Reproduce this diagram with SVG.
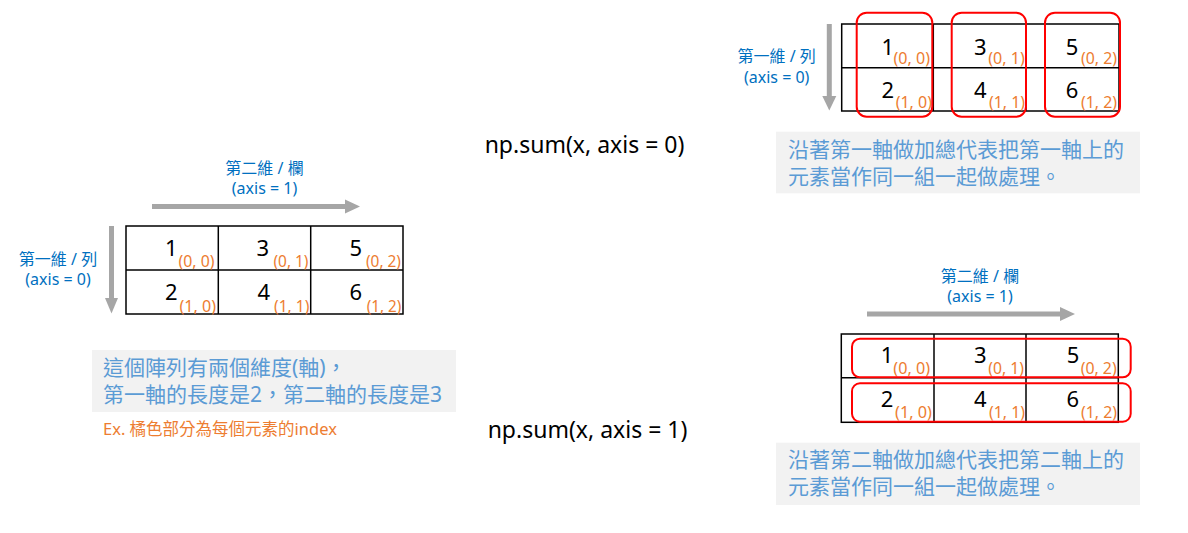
<svg xmlns="http://www.w3.org/2000/svg" width="1188" height="533" viewBox="0 0 1188 533">
<style>
text{font-family:"Noto Sans","Noto Sans CJK TC",sans-serif;}
.num{font-size:22px;fill:#000;text-anchor:end;}
.sub{font-size:16px;fill:#ED7D31;}
.ax{font-size:16px;fill:#0070C0;text-anchor:middle;}
.note{font-size:21px;fill:#5B9BD5;}
.code{font-size:23px;fill:#000;text-anchor:middle;}
.grid{fill:none;stroke:#000;stroke-width:1.5;}
.shaft{stroke:#A6A6A6;stroke-width:5;fill:none;}
.head{fill:#A6A6A6;}
.box{fill:#F2F2F2;}
.hl{fill:none;stroke:#FF0000;stroke-width:2;}
</style>
<rect width="1188" height="533" fill="#fff"/>

<g id="connectors">
  <line class="shaft" x1="152" y1="206.5" x2="346" y2="206.5"/>
  <polygon class="head" points="345,199.5 360,206.5 345,213.5"/>
  <line class="shaft" x1="111.5" y1="226" x2="111.5" y2="299"/>
  <polygon class="head" points="105,298 118,298 111.5,313.5"/>
  <line class="shaft" x1="829.3" y1="24" x2="829.3" y2="97"/>
  <polygon class="head" points="822.3,96 836.3,96 829.3,110.5"/>
  <line class="shaft" x1="867" y1="314" x2="1061" y2="314"/>
  <polygon class="head" points="1060,307 1075,314 1060,321"/>
</g>

<g id="grid-left">
  <rect class="grid" x="126" y="226" width="277" height="88"/>
  <line class="grid" x1="126" y1="270" x2="403" y2="270"/>
  <line class="grid" x1="218.3" y1="226" x2="218.3" y2="314"/>
  <line class="grid" x1="310.7" y1="226" x2="310.7" y2="314"/>
  <text class="num" x="177.5" y="256">1</text><text class="sub" x="178.5" y="267" textLength="36" lengthAdjust="spacingAndGlyphs">(0, 0)</text>
  <text class="num" x="269" y="256">3</text><text class="sub" x="273.5" y="267" textLength="35" lengthAdjust="spacingAndGlyphs">(0, 1)</text>
  <text class="num" x="362" y="256">5</text><text class="sub" x="366" y="267" textLength="35" lengthAdjust="spacingAndGlyphs">(0, 2)</text>
  <text class="num" x="177.5" y="300">2</text><text class="sub" x="179.5" y="311.5" textLength="36.5" lengthAdjust="spacingAndGlyphs">(1, 0)</text>
  <text class="num" x="270" y="300">4</text><text class="sub" x="274" y="311.5" textLength="35.3" lengthAdjust="spacingAndGlyphs">(1, 1)</text>
  <text class="num" x="362" y="300">6</text><text class="sub" x="366.7" y="311.5" textLength="34.5" lengthAdjust="spacingAndGlyphs">(1, 2)</text>
</g>
<g id="labels-left">
  <text class="ax" x="264.5" y="174">第二維 / 欄</text>
  <text class="ax" x="264.5" y="194">(axis = 1)</text>
  <text class="ax" x="58" y="265">第一維 / 列</text>
  <text class="ax" x="58" y="285">(axis = 0)</text>
</g>
<g id="note-left">
  <rect class="box" x="92" y="350" width="364" height="62"/>
  <text class="note" x="103" y="375">這個陣列有兩個維度(軸)，</text>
  <text class="note" x="103" y="401.5">第一軸的長度是2，第二軸的長度是3</text>
  <text x="103" y="435" style="font-size:16.5px;fill:#ED7D31">Ex. 橘色部分為每個元素的index</text>
</g>

<g id="code-0"><text class="code" x="584.5" y="153">np.sum(x, axis = 0)</text></g>
<g id="code-1"><text class="code" x="587.5" y="438">np.sum(x, axis = 1)</text></g>

<g id="grid-top-right">
  <rect class="grid" x="841.7" y="24" width="277.3" height="87"/>
  <line class="grid" x1="841.7" y1="67.7" x2="1119" y2="67.7"/>
  <line class="grid" x1="933.3" y1="24" x2="933.3" y2="111"/>
  <line class="grid" x1="1026" y1="24" x2="1026" y2="111"/>
  <text class="num" x="894" y="54.5">1</text><text class="sub" x="893.5" y="64" textLength="36.5" lengthAdjust="spacingAndGlyphs">(0, 0)</text>
  <text class="num" x="986.7" y="54.5">3</text><text class="sub" x="988.3" y="64" textLength="36.5" lengthAdjust="spacingAndGlyphs">(0, 1)</text>
  <text class="num" x="1078.3" y="54.5">5</text><text class="sub" x="1081" y="64" textLength="36" lengthAdjust="spacingAndGlyphs">(0, 2)</text>
  <text class="num" x="894" y="98.3">2</text><text class="sub" x="895.7" y="108" textLength="36.3" lengthAdjust="spacingAndGlyphs">(1, 0)</text>
  <text class="num" x="986.7" y="98.3">4</text><text class="sub" x="989" y="108" textLength="36" lengthAdjust="spacingAndGlyphs">(1, 1)</text>
  <text class="num" x="1078.3" y="98.3">6</text><text class="sub" x="1081" y="108" textLength="36" lengthAdjust="spacingAndGlyphs">(1, 2)</text>
  <rect class="hl" x="856.7" y="12.7" width="75.6" height="104" rx="10"/>
  <rect class="hl" x="951.7" y="12.7" width="74.3" height="104" rx="10"/>
  <rect class="hl" x="1045" y="12.7" width="75" height="104" rx="10"/>
</g>
<g id="labels-top-right">
  <text class="ax" x="776.7" y="62">第一維 / 列</text>
  <text class="ax" x="776.7" y="83">(axis = 0)</text>
</g>
<g id="note-top-right">
  <rect class="box" x="776" y="131.7" width="364" height="61.6"/>
  <text class="note" x="788" y="157">沿著第一軸做加總代表把第一軸上的</text>
  <text class="note" x="788" y="183.5">元素當作同一組一起做處理。</text>
</g>

<g id="grid-bottom-right">
  <rect class="grid" x="841.3" y="334" width="277" height="88.3"/>
  <line class="grid" x1="841.3" y1="377.7" x2="1118.3" y2="377.7"/>
  <line class="grid" x1="934" y1="334" x2="934" y2="422.3"/>
  <line class="grid" x1="1026" y1="334" x2="1026" y2="422.3"/>
  <text class="num" x="893.3" y="363.3">1</text><text class="sub" x="893.3" y="374" textLength="36.7" lengthAdjust="spacingAndGlyphs">(0, 0)</text>
  <text class="num" x="986.7" y="363.3">3</text><text class="sub" x="988.3" y="374" textLength="35.7" lengthAdjust="spacingAndGlyphs">(0, 1)</text>
  <text class="num" x="1079.3" y="363.3">5</text><text class="sub" x="1080.7" y="374" textLength="36" lengthAdjust="spacingAndGlyphs">(0, 2)</text>
  <text class="num" x="893.3" y="406.7">2</text><text class="sub" x="895" y="418.3" textLength="37" lengthAdjust="spacingAndGlyphs">(1, 0)</text>
  <text class="num" x="986.7" y="406.7">4</text><text class="sub" x="989" y="418.3" textLength="36" lengthAdjust="spacingAndGlyphs">(1, 1)</text>
  <text class="num" x="1079" y="406.7">6</text><text class="sub" x="1081" y="418.3" textLength="36" lengthAdjust="spacingAndGlyphs">(1, 2)</text>
  <rect class="hl" x="852" y="338.7" width="278.7" height="38.6" rx="8"/>
  <rect class="hl" x="852" y="383.3" width="278.7" height="38.4" rx="8"/>
</g>
<g id="labels-bottom-right">
  <text class="ax" x="980" y="282">第二維 / 欄</text>
  <text class="ax" x="980" y="302">(axis = 1)</text>
</g>
<g id="note-bottom-right">
  <rect class="box" x="776" y="442.7" width="364" height="62.3"/>
  <text class="note" x="788" y="467">沿著第二軸做加總代表把第二軸上的</text>
  <text class="note" x="788" y="493.5">元素當作同一組一起做處理。</text>
</g>
</svg>
